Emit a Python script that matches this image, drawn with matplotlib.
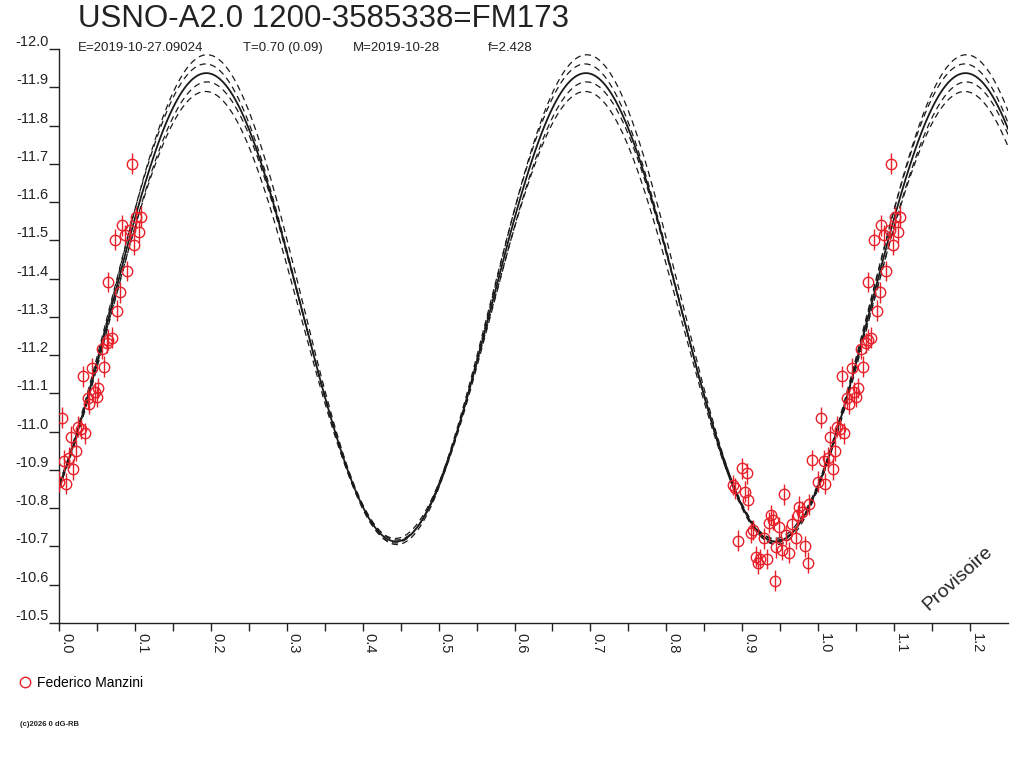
import numpy as np
import matplotlib
matplotlib.use('Agg')
import matplotlib.pyplot as plt
from matplotlib.lines import Line2D

plt.rcParams['font.family'] = ['Liberation Sans', 'DejaVu Sans']

# ---------------- data ----------------
title = "USNO-A2.0 1200-3585338=FM173"
subtitle_parts = ["E=2019-10-27.09024", "T=0.70 (0.09)", "M=2019-10-28", "f=2.428"]
subtitle_x_px = [78, 243, 353, 488]
observer = "Federico Manzini"
copyright_txt = "(c)2026 0 dG-RB"
watermark = "Provisoire"

# observations with phase in [0, 0.11] (also shown at phase + 1)
phase_a = [0.096, 0.108, 0.101, 0.083, 0.094, 0.087, 0.105, 0.074, 0.099, 0.089,
           0.065, 0.081, 0.077, 0.070, 0.065, 0.063, 0.056, 0.059, 0.044, 0.031,
           0.052, 0.047, 0.038, 0.050, 0.040, 0.0035, 0.025, 0.029, 0.034, 0.016,
           0.022, 0.007, 0.013, 0.019, 0.000, 0.009]
mag_a = [-11.700, -11.562, -11.560, -11.539, -11.527, -11.514, -11.521, -11.502, -11.488, -11.420,
         -11.391, -11.364, -11.316, -11.246, -11.240, -11.232, -11.216, -11.170, -11.166, -11.145,
         -11.114, -11.103, -11.087, -11.091, -11.072, -11.037, -11.013, -11.007, -10.996, -10.987,
         -10.950, -10.924, -10.932, -10.902, -10.869, -10.864]

# observations with phase in [0.88, 1.0]
phase_b = [0.8996, 0.906, 0.992, 0.888, 0.891, 0.903, 0.908, 0.955, 0.975, 0.9785,
           0.988, 0.974, 0.938, 0.940, 0.9355, 0.949, 0.966, 0.914, 0.911, 0.894,
           0.929, 0.957, 0.971, 0.983, 0.945, 0.952, 0.961, 0.918, 0.923, 0.933,
           0.921, 0.986, 0.943]
mag_b = [-10.904, -10.891, -10.926, -10.861, -10.852, -10.843, -10.822, -10.836, -10.804, -10.791,
         -10.810, -10.782, -10.782, -10.769, -10.762, -10.750, -10.759, -10.743, -10.735, -10.715,
         -10.721, -10.730, -10.721, -10.700, -10.698, -10.691, -10.684, -10.673, -10.667, -10.667,
         -10.656, -10.658, -10.611]
mag_err = 0.027

# fitted light-curve model (double wave), parameters
fit_max_phase = 0.194
fit_wave_period = 0.5
fit_max = [-11.985, -11.961, -11.937, -11.914, -11.889]
fit_min = [-10.705, -10.709, -10.713, -10.717, -10.721]
fit_shift = [0.001, -0.001, 0.0, 0.001, -0.001]
fit_solid = [False, False, True, False, False]

# ---------------- figure ----------------
RED = '#e8202a'
INK = '#1a1a1a'
W, H = 1024, 768
fig = plt.figure(figsize=(W / 100, H / 100), dpi=100)
ax = fig.add_axes([59 / W, 1 - 623 / H, (1008 - 59) / W, (623 - 49) / H])

xlim = (0.0, 1.25)
ph = np.linspace(xlim[0], xlim[1], 1500)
for mx, mn, sh, solid in zip(fit_max, fit_min, fit_shift, fit_solid):
    mean = (mx + mn) / 2
    half = (mn - mx) / 2
    y = mean - half * np.cos(2 * np.pi * (ph - fit_max_phase - sh) / fit_wave_period)
    if solid:
        ax.plot(ph, y, color=INK, lw=1.3, zorder=3)
    else:
        ax.plot(ph, y, color=INK, lw=0.9, dashes=(5, 3.5), zorder=3)

px = np.concatenate([np.array(phase_a), np.array(phase_a) + 1.0, np.array(phase_b)])
py = np.concatenate([np.array(mag_a), np.array(mag_a), np.array(mag_b)])
ax.errorbar(px, py, yerr=mag_err, fmt='none', ecolor=RED, elinewidth=1.0, capsize=0, zorder=4)
ax.plot(px, py, 'o', ls='none', mfc='none', mec=RED, mew=1.0, ms=7.5, zorder=5)

ax.set_xlim(*xlim)
ax.set_ylim(-10.5, -12.0)

yt = np.round(np.arange(-12.0, -10.49, 0.1), 1)
ax.set_yticks(yt, labels=[f"{v:.1f}" for v in yt], va='bottom', fontsize=10.5)
xt = np.round(np.arange(0.0, 1.21, 0.1), 1)
ax.set_xticks(xt, labels=[f"{v:.1f}" for v in xt], rotation=-90, ha='left', va='top', fontsize=10.5)
ax.set_xticks(np.arange(0.05, 1.25, 0.1), minor=True)
ax.tick_params(axis='y', direction='out', length=7.5, width=1, pad=0, colors='#222222')
ax.tick_params(axis='x', which='both', direction='out', length=6, width=1, pad=1, colors='#222222')

for s in ('top', 'right'):
    ax.spines[s].set_visible(False)
for s in ('left', 'bottom'):
    ax.spines[s].set_linewidth(1.0)
    ax.spines[s].set_color('#222222')

fig.text(78 / W, 1 - 19 / H, title, fontsize=22.5, ha='left', va='center', color='#222222')
for txt, xp in zip(subtitle_parts, subtitle_x_px):
    fig.text(xp / W, 1 - 48 / H, txt, fontsize=9.5, ha='left', va='center', color='#222222')

fig.text(958 / W, 1 - 578 / H, watermark, fontsize=14, rotation=42,
         ha='center', va='center', color='#222222')

handle = Line2D([], [], marker='o', ls='none', mfc='none', mec=RED, mew=1.0, ms=7.5)
fig.legend(handles=[handle], labels=[observer], loc='center left',
           bbox_to_anchor=(18 / W, 1 - 683 / H), frameon=False, handlelength=1.0,
           handletextpad=0.35, borderaxespad=0, borderpad=0, fontsize=10)

fig.text(20 / W, 1 - 725 / H, copyright_txt, fontsize=5.5, ha='left', va='center',
         color='#222222', fontweight='bold')

fig.savefig('out.png', dpi=100)
